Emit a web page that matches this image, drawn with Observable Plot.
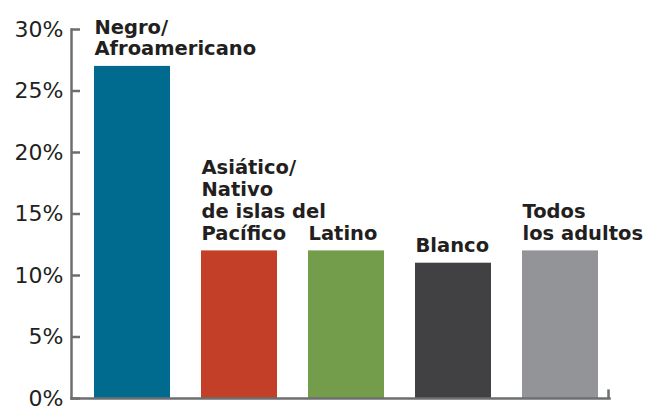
<!DOCTYPE html>
<html>
<head>
<meta charset="utf-8">
<script src="https://cdn.jsdelivr.net/npm/d3@7"></script>
<script src="https://cdn.jsdelivr.net/npm/@observablehq/plot@0.6"></script>
<style>
  html, body { margin: 0; padding: 0; background: #fff; }
</style>
</head>
<body>
<div id="chart"></div>
<script>
const categories = ["Negro/\nAfroamericano", "Asiático/\nNativo\nde islas del\nPacífico", "Latino", "Blanco", "Todos\nlos adultos"];
const values = [27, 12, 12, 11, 12];
const colors = ["#006b8f", "#c43f27", "#739c4b", "#414042", "#939498"];
const yTicks = [0, 5, 10, 15, 20, 25, 30];

const data = categories.map((c, i) => ({cat: c, value: values[i], color: colors[i]}));
const axisGray = "#6d6e71";
const textColor = "#231f20";

const chart = Plot.plot({
  width: 647,
  height: 411,
  marginLeft: 71,
  marginRight: 38,
  marginTop: 29,
  marginBottom: 13,
  style: {fontFamily: "DejaVu Sans", background: "#fff", overflow: "visible"},
  x: {domain: categories, paddingInner: 0.29, paddingOuter: 0.153, align: 0.667, axis: null},
  y: {domain: [0, 30], axis: null},
  color: {type: "identity"},
  marks: [
    Plot.barY(data, {x: "cat", y: "value", fill: "color"}),
    Plot.frame({anchor: "left", stroke: axisGray, strokeWidth: 2.5}),
    Plot.frame({anchor: "bottom", stroke: axisGray, strokeWidth: 2.5}),
    Plot.tickY(yTicks, {y: d => d, insetRight: 529, stroke: axisGray, strokeWidth: 2.5}),
    Plot.ruleX(["Todos\nlos adultos"], {x: d => d, y1: 0, y2: 0.7, dx: 48, stroke: axisGray, strokeWidth: 2.5}),
    Plot.axisY({ticks: yTicks, label: null, tickSize: 0, tickPadding: 8, tickFormat: d => d + "%", fontSize: 22, fill: textColor}),
    Plot.text(data, {x: "cat", y: "value", text: "cat", textAnchor: "start", lineAnchor: "bottom", dx: -38, dy: -11, fontSize: 19.5, fontWeight: "bold", lineHeight: 1.12, fill: textColor})
  ]
});
document.getElementById("chart").appendChild(chart);
</script>
</body>
</html>
